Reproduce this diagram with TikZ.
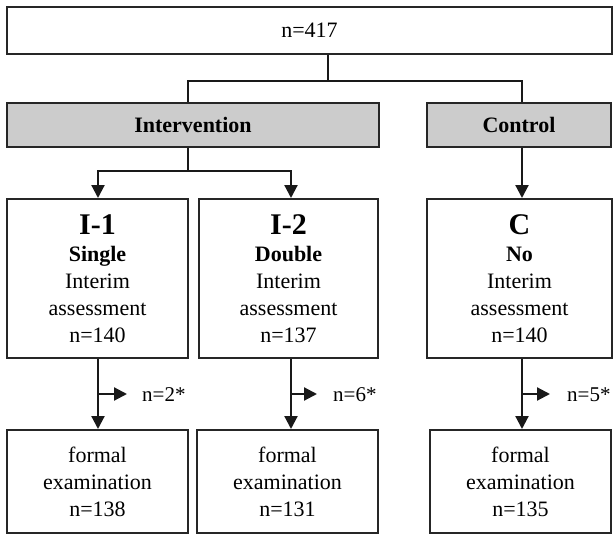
\documentclass[tikz,border=0pt]{standalone}
\usepackage{fontspec}
\setmainfont{Liberation Serif}
\usetikzlibrary{arrows.meta}

\begin{document}
\begin{tikzpicture}[x=1pt,y=-1pt,
    box/.style={draw=black!85,line width=2pt,fill=white,align=center,inner sep=0pt,font=\fontsize{22}{27}\selectfont},
    grpbox/.style={box,fill=black!20,font=\fontsize{22}{27}\selectfont\bfseries},
    link/.style={draw=black!90,line width=2.2pt},
    arr/.style={link,-{Triangle[length=13pt,width=13pt]}},
    drop/.style={anchor=west,inner sep=0pt,font=\fontsize{21}{24}\selectfont}]
    \useasboundingbox (0,0) rectangle (614,535);

    % All participants
    \node[box,minimum width=605pt,minimum height=47pt] (top) at (309.5,30.5) {n=417};

    % Groups
    \node[grpbox,minimum width=372pt,minimum height=44pt] (interv) at (193,125) {Intervention};
    \node[grpbox,minimum width=184pt,minimum height=44pt] (ctrl) at (519,125) {Control};

    % Interim assessment arms
    \node[box,minimum width=181pt,minimum height=159pt] (i1) at (97.5,278.5)
        {{\fontsize{30}{30}\selectfont\bfseries I-1}\\ \textbf{Single}\\ Interim\\ assessment\\ n=140};
    \node[box,minimum width=179pt,minimum height=159pt] (i2) at (288.5,278.5)
        {{\fontsize{30}{30}\selectfont\bfseries I-2}\\ \textbf{Double}\\ Interim\\ assessment\\ n=137};
    \node[box,minimum width=185pt,minimum height=159pt] (c) at (519.5,278.5)
        {{\fontsize{30}{30}\selectfont\bfseries C}\\ \textbf{No}\\ Interim\\ assessment\\ n=140};

    % Formal examination
    \node[box,minimum width=181pt,minimum height=103pt] (f1) at (97.5,481.5) {formal\\ examination\\ n=138};
    \node[box,minimum width=181pt,minimum height=103pt] (f2) at (287.5,481.5) {formal\\ examination\\ n=131};
    \node[box,minimum width=181pt,minimum height=103pt] (fc) at (520.5,481.5) {formal\\ examination\\ n=135};

    % Drop-outs
    \node[drop] (l1) at (142,395) {n=2*};
    \node[drop] (l2) at (333,395) {n=6*};
    \node[drop] (lc) at (567,395) {n=5*};

    % Split points
    \coordinate (s0) at (328,81);
    \coordinate (sI) at (188,81);
    \coordinate (sC) at (522,81);
    \coordinate (tI) at (188,171);
    \coordinate (t1) at (98,171);
    \coordinate (t2) at (291,171);
    \coordinate (d1) at (98,394);
    \coordinate (d2) at (291,394);
    \coordinate (dc) at (522,394);

    % Connectors
    \draw[link] (s0 |- top.south) -- (s0);
    \draw[link] (sI |- interv.north) |- (sC) -- (sC |- ctrl.north);
    \draw[arr] (sC |- ctrl.south) -- (sC |- c.north);
    \draw[arr] (tI |- interv.south) -- (tI) -| (t1 |- i1.north);
    \draw[arr] (tI) -| (t2 |- i2.north);
    \draw[arr] (t1 |- i1.south) -- (t1 |- f1.north);
    \draw[arr] (t2 |- i2.south) -- (t2 |- f2.north);
    \draw[arr] (dc |- c.south) -- (dc |- fc.north);
    \draw[arr,shorten >=15pt] (d1) -- (d1 -| l1.west);
    \draw[arr,shorten >=16pt] (d2) -- (d2 -| l2.west);
    \draw[arr,shorten >=17pt] (dc) -- (dc -| lc.west);
\end{tikzpicture}
\end{document}
